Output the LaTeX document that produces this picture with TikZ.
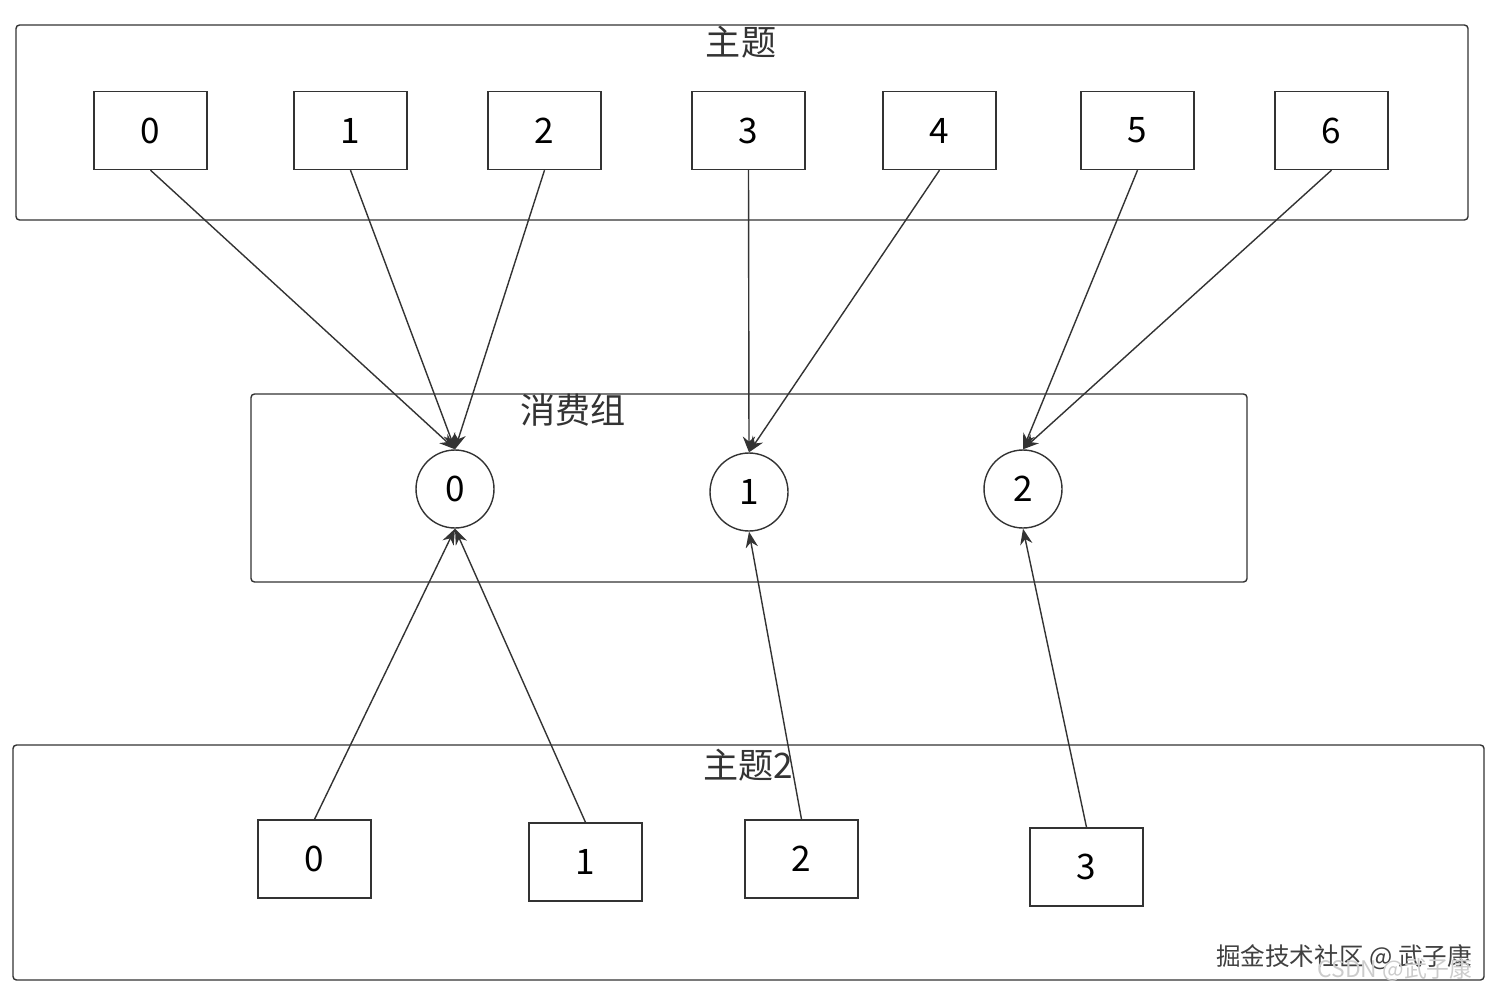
\documentclass[tikz,border=0pt]{standalone}
\usepackage{fontspec}
\setmainfont{Noto Sans CJK SC}
\usetikzlibrary{arrows.meta}
\begin{document}
\begin{tikzpicture}[x=0.02cm,y=-0.02cm,
  frame/.style={draw=black!80,line width=0.8pt,rounded corners=2pt},
  part/.style={draw=black!80,line width=0.8pt,minimum width=2.26cm,minimum height=1.56cm,inner sep=0pt,font=\fontsize{20}{22}\selectfont},
  cons/.style={draw=black!80,line width=0.8pt,circle,minimum size=1.56cm,inner sep=0pt,font=\fontsize{20}{22}\selectfont},
  lab/.style={font=\fontsize{20}{22}\selectfont,text=black!80},
  arr/.style={draw=black!80,line width=0.8pt,-{Stealth[length=9pt,width=7pt]}}]
\useasboundingbox (0,0) rectangle (1500,997);
\draw[frame] (16,25) rectangle (1468,220);
\draw[frame] (251,394) rectangle (1247,582);
\draw[frame] (13,745) rectangle (1484,980);
\node[lab] (lt) at (741,42) {主题};
\node[lab] (lc) at (573,410) {消费组};
\node[lab] (lb) at (748,765) {主题2};
\foreach \n/\x in {0/150.5,1/350.5,2/544.5,3/748.5,4/939.5,5/1137.5,6/1331.5}
  \node[part] (t\n) at (\x,130.5) {\n};
\node[cons] (c0) at (455,489) {0};
\node[cons] (c1) at (749,492) {1};
\node[cons] (c2) at (1023,489) {2};
\node[part] (b0) at (314.5,859) {0};
\node[part] (b1) at (585.5,862) {1};
\node[part] (b2) at (801.5,859) {2};
\node[part] (b3) at (1086.5,867) {3};
\draw[arr] (t0.south) -- (c0.north);
\draw[arr] (t1.south) -- (c0.north);
\draw[arr] (t2.south) -- (c0.north);
\draw[arr] (t3.south) -- (c1.north);
\draw[arr] (t4.south) -- (c1.north);
\draw[arr] (t5.south) -- (c2.north);
\draw[arr] (t6.south) -- (c2.north);
\draw[arr] (b0.north) -- (c0.south);
\draw[arr] (b1.north) -- (c0.south);
\draw[arr] (b2.north) -- (c1.south);
\draw[arr] (b3.north) -- (c2.south);
\node[font=\fontsize{14}{16}\selectfont,text=black!75] (wm) at (1344,957) {掘金技术社区 @ 武子康};
\node[font=\fontsize{13}{15}\selectfont,text=black!20] (wm2) at (1395,970) {CSDN @武子康};
\end{tikzpicture}
\end{document}
